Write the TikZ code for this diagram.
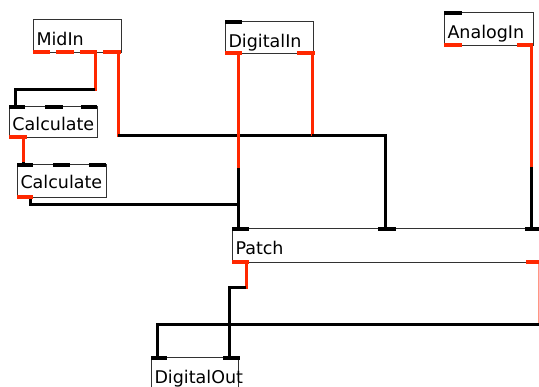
\documentclass[tikz,border=0pt]{standalone}
\usepackage{fontspec}
\newfontfamily\objfont{DejaVu Sans}
\definecolor{portred}{RGB}{255,40,0}
\definecolor{lightred}{RGB}{255,150,130}
\definecolor{boxgray}{RGB}{50,50,50}
\tikzset{
  obj/.style={draw=boxgray, line width=1pt, fill=white, inner xsep=3pt, inner ysep=0pt,
    text height=26pt, anchor=north west, align=left,
    font=\objfont\fontsize{17.5}{20}\selectfont},
  inport/.style={fill=black, inner sep=0pt, minimum height=4pt, anchor=north west},
  outport/.style={fill=portred, inner sep=0pt, minimum height=4pt, anchor=north west},
  wire/.style={line width=3pt, line join=miter},
  redwire/.style={wire, draw=portred},
  blackwire/.style={wire, draw=black},
  thinred/.style={line width=1pt, draw=lightred},
}
\begin{document}
\begin{tikzpicture}[x=1pt,y=-1pt]
\useasboundingbox (0,0) rectangle (539,387);
\clip (0,0) rectangle (539,387);
% objects
\node[obj, text width=82pt, text depth=7pt] (midin) at (33,19) {MidIn};
\node[obj, text width=82pt, text height=24pt, text depth=7pt] (calc1) at (9,106) {Calculate};
\node[obj, text width=83pt, text height=24pt, text depth=9pt] (calc2) at (17,164) {Calculate};
\node[obj, text width=82pt, text depth=6pt] (digin) at (225,21) {DigitalIn};
\node[obj, text width=83pt, text depth=7pt] (anain) at (444,12) {AnalogIn};
\node[obj, text width=314pt, text depth=8pt] (patch) at (232,228) {Patch};
\node[obj, text width=81pt, text depth=14pt] (digout) at (151,357) {DigitalOut};
% bend points
\coordinate (a1) at (95,90);
\coordinate (a2) at (15,90);
\coordinate (b1) at (118,136);
\coordinate (b2) at (385,136);
\coordinate (c1) at (23,162);
\coordinate (d1) at (30,205);
\coordinate (d2) at (238,205);
\coordinate (e1) at (238,168);
\coordinate (f1) at (312,136);
\coordinate (g1) at (531,167);
\coordinate (h1) at (246,288);
\coordinate (h2) at (229,288);
\coordinate (i1) at (538.5,325);
\coordinate (i2) at (157,325);
% ports (positions)
\path
  (33,50)  node[outport, minimum width=17pt] (mo1) {}
  (56,50)  node[outport, minimum width=18pt] (mo2) {}
  (80,50)  node[outport, minimum width=17pt] (mo3) {}
  (103,50) node[outport, minimum width=18pt] (mo4) {}
  (9,105)  node[inport, minimum width=16pt] (c1i1) {}
  (45,105) node[inport, minimum width=18pt] (c1i2) {}
  (81,105) node[inport, minimum width=16pt] (c1i3) {}
  (9,135)  node[outport, minimum width=18pt] (c1o1) {}
  (17,163) node[inport, minimum width=16pt] (c2i1) {}
  (53,163) node[inport, minimum width=17pt] (c2i2) {}
  (89,163) node[inport, minimum width=17pt] (c2i3) {}
  (17,195) node[outport, minimum width=16pt] (c2o1) {}
  (225,20) node[inport, minimum width=17pt] (dii1) {}
  (225,51) node[outport, minimum width=17pt] (dio1) {}
  (297,51) node[outport, minimum width=18pt] (dio2) {}
  (444,11) node[inport, minimum width=18pt] (aii1) {}
  (444,43) node[outport, minimum width=18pt] (aio1) {}
  (517,43) node[outport, minimum width=16pt] (aio2) {}
  (232,227) node[inport, minimum width=17pt] (pi1) {}
  (378,227) node[inport, minimum width=18pt] (pi2) {}
  (525,227) node[inport, minimum width=20pt] (pi3) {}
  (232,260) node[outport, minimum width=17pt] (po1) {}
  (526,260) node[outport, minimum width=20pt] (po2) {}
  (151,356) node[inport, minimum width=16pt] (doi1) {}
  (223,356) node[inport, minimum width=17pt] (doi2) {};
% wires
\draw[redwire, shorten >=-1.5pt] (mo3.south -| a1) -- (a1);
\draw[blackwire] (a1) -- (a2) -- (a2 |- c1i1.north);
\draw[redwire, shorten >=-1.5pt] (mo4.south -| b1) -- (b1);
\draw[blackwire] (b1) -- (b2) -- (b2 |- pi2.north);
\draw[redwire] (c1o1.south -| c1) -- (c1);
\draw[blackwire] (c1) -- (c1 |- c2i1.north);
\draw[blackwire] (c2o1.south -| d1) -- (d1) -- (d2) -- (d2 |- pi1.north);
\draw[redwire] (dio1.south -| e1) -- (e1);
\draw[blackwire] (e1) -- (e1 |- pi1.north);
\draw[redwire] (dio2.south -| f1) -- (f1);
\draw[blackwire] (f1) -- (b2) -- (b2 |- pi2.north);
\draw[redwire] (aio2.south -| g1) -- (g1);
\draw[blackwire] (g1) -- (g1 |- pi3.north);
\draw[redwire, shorten >=-1.5pt] (po1.south -| h1) -- (h1);
\draw[blackwire] (h1) -- (h2) -- (h2 |- doi2.north);
\draw[thinred] (po2.south -| i1) -- (i1);
\draw[blackwire] (i1) -- (i2) -- (i2 |- doi1.north);
% redraw ports on top
\foreach \p in {mo1,mo2,mo3,mo4,c1o1,c2o1,dio1,dio2,aio1,aio2,po1,po2}
  \fill[portred] (\p.north west) rectangle (\p.south east);
\foreach \p in {c1i1,c1i2,c1i3,c2i1,c2i2,c2i3,dii1,aii1,pi1,pi2,pi3,doi1,doi2}
  \fill[black] (\p.north west) rectangle (\p.south east);
\end{tikzpicture}
\end{document}
